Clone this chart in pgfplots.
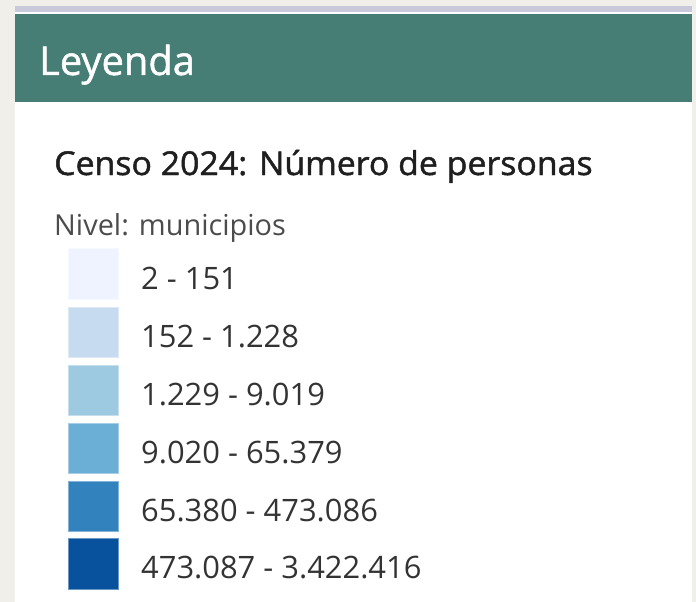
\documentclass[border=0pt]{standalone}
\usepackage{fontspec}
\setmainfont{Open Sans}
\newfontfamily\headfont[FakeBold=1.2]{Open Sans}
\newfontfamily\titlefont[FakeBold=1.4,FakeStretch=1.03]{Open Sans}
\usepackage{pgfplots}
\pgfplotsset{compat=1.18}

\definecolor{bg}{HTML}{F0EFEA}
\definecolor{strip}{HTML}{C8CADB}
\definecolor{header}{HTML}{467D74}
\definecolor{cA}{HTML}{EFF3FF}
\definecolor{cB}{HTML}{C6DBEF}
\definecolor{cC}{HTML}{9ECAE1}
\definecolor{cD}{HTML}{6BAED6}
\definecolor{cE}{HTML}{3182BD}
\definecolor{cF}{HTML}{08519C}

\begin{document}
\begin{tikzpicture}
\begin{axis}[
    width=696bp, height=602bp, scale only axis,
    xmin=0, xmax=696, ymin=0, ymax=602,
    y dir=reverse, hide axis, clip=false,
]
% panel
\fill[bg] (axis cs:0,0) rectangle (axis cs:696,602);
\fill[white] (axis cs:15,6) rectangle (axis cs:692,602);
\fill[strip] (axis cs:15,6) rectangle (axis cs:692,12);
\fill[header] (axis cs:15,14) rectangle (axis cs:692,102);

% swatches (class boxes)
\addplot[fill=cA, draw=cA!60!white, line width=1bp] coordinates {(68,248) (118,248) (118,299) (68,299) (68,248)};
\addplot[fill=cB, draw=cB!60!white, line width=1bp] coordinates {(68,307) (118,307) (118,357) (68,357) (68,307)};
\addplot[fill=cC, draw=cC!60!white, line width=1bp] coordinates {(68,365) (118,365) (118,415) (68,415) (68,365)};
\addplot[fill=cD, draw=cD!60!white, line width=1bp] coordinates {(68,423) (118,423) (118,473) (68,473) (68,423)};
\addplot[fill=cE, draw=cE!60!white, line width=1bp] coordinates {(68,481) (118,481) (118,531) (68,531) (68,481)};
\addplot[fill=cF, draw=cF!60!white, line width=1bp] coordinates {(68,538) (118,538) (118,589) (68,589) (68,538)};

% texts
\tikzset{lbl/.style={anchor=base west, inner sep=0pt}}
\node[lbl, text=white, font=\headfont\fontsize{40}{46}\selectfont] at (axis cs:39,75) {Leyenda};
\node[lbl, text=black!88, font=\titlefont\fontsize{33}{38}\selectfont] at (axis cs:54,175) {Censo 2024: Número de personas};
\node[lbl, text=black!70, font=\fontsize{29}{33}\selectfont] at (axis cs:54,235) {Nivel: municipios};
\node[lbl, text=black!80, font=\fontsize{31}{36}\selectfont] at (axis cs:141,289) {2 - 151};
\node[lbl, text=black!80, font=\fontsize{31}{36}\selectfont] at (axis cs:141,347) {152 - 1.228};
\node[lbl, text=black!80, font=\fontsize{31}{36}\selectfont] at (axis cs:141,405) {1.229 - 9.019};
\node[lbl, text=black!80, font=\fontsize{31}{36}\selectfont] at (axis cs:141,463) {9.020 - 65.379};
\node[lbl, text=black!80, font=\fontsize{31}{36}\selectfont] at (axis cs:141,521) {65.380 - 473.086};
\node[lbl, text=black!80, font=\fontsize{31}{36}\selectfont] at (axis cs:141,578) {473.087 - 3.422.416};
\end{axis}
\end{tikzpicture}
\end{document}
